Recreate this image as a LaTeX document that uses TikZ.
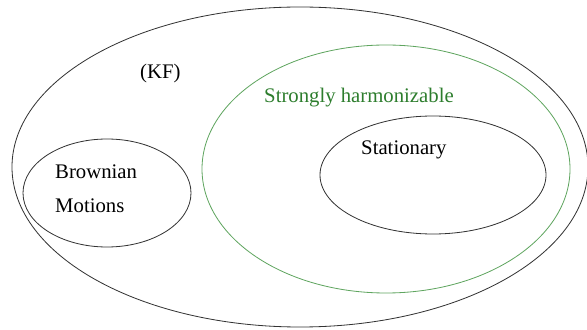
\documentclass[tikz,border=0pt]{standalone}
\usepackage{fontspec}
\setmainfont{Liberation Serif}
\usepackage{tikz}
\definecolor{setgreen}{RGB}{95,165,95}
\definecolor{textgreen}{RGB}{45,125,45}

\begin{document}
\begin{tikzpicture}[set/.style = {draw=black!80, line width=0.7pt},
                    lbl/.style = {anchor=base west, inner sep=0pt, font=\fontsize{17.7pt}{29pt}\selectfont}]
                \useasboundingbox (0, 0) rectangle (17.61, 9.87);

                \draw[set] (9.00, 4.86) ellipse (8.64 and 4.80);
                \draw[set, draw=setgreen] (11.58, 4.80) ellipse (5.52 and 3.72);
                \draw[set] (12.99, 4.62) ellipse (3.39 and 1.77);
                \draw[set] (3.21, 4.08) ellipse (2.52 and 1.62);

                \node[lbl] at (4.20, 7.50) (KF) {(KF)};
                \node[lbl, text=textgreen] at (7.92, 6.78) (SH) {Strongly harmonizable};
                \node[lbl] at (10.83, 5.22) (S) {Stationary};
                \node[lbl] at (1.65, 4.50) (BM) {Brownian};
                \node[lbl] at (1.65, 3.48) (M) {Motions};
            \end{tikzpicture}
\end{document}
